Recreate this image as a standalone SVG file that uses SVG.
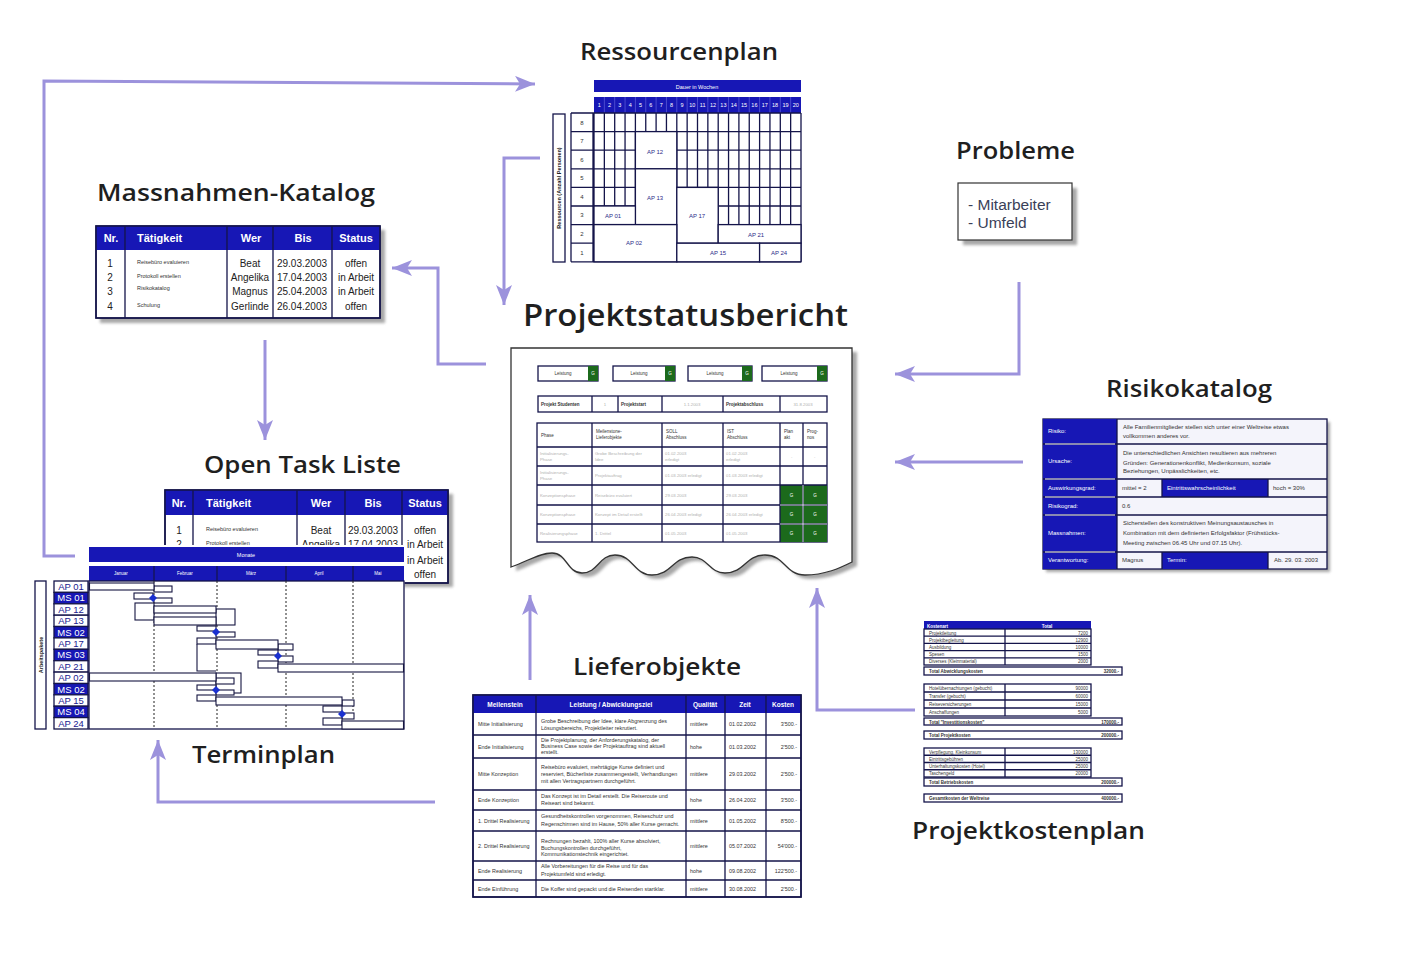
<svg xmlns="http://www.w3.org/2000/svg" width="1422" height="960" viewBox="0 0 1422 960">
<defs>
<style>
.t{font-family:"Open Sans","Liberation Sans",sans-serif;font-weight:600;font-size:24px;fill:#1f1f1f}
.s{font-family:"Liberation Sans",Arial,sans-serif}
.hb{fill:#1717b5}
.ln{fill:none;stroke:#14144a;stroke-width:1.3}
.cell{fill:#fff;stroke:#14144a;stroke-width:1.3}
.conn{fill:none;stroke:#9c92dc;stroke-width:3;marker-end:url(#ah)}
.sh{fill:#8a8a8a;opacity:.75;filter:url(#blur)}
.wh{fill:#fff}
.ap{font-family:"Liberation Sans",Arial,sans-serif;font-size:6px;fill:#2b2b8a;text-anchor:middle}
.hd{font-family:"Liberation Sans",Arial,sans-serif;font-weight:bold;font-size:11px;fill:#fff}
.bd{font-family:"Liberation Sans",Arial,sans-serif;font-size:10px;fill:#222}
.tiny{font-family:"Liberation Sans",Arial,sans-serif;font-size:5.5px;fill:#333}
.fa{font-family:"Liberation Sans",Arial,sans-serif;font-size:4.3px;fill:#b0b0b0}
.dk{font-family:"Liberation Sans",Arial,sans-serif;font-size:4.5px;fill:#333}
.bar{fill:#fff;stroke:#151540;stroke-width:1.1}
.dia{fill:#1a30d0}
.g{fill:#1c6a1c}
.gt{font-family:"Liberation Sans",Arial,sans-serif;font-size:4.5px;fill:#fff;text-anchor:middle}
.rk{font-family:"Liberation Sans",Arial,sans-serif;font-size:6px;fill:#333}
.rkw{font-family:"Liberation Sans",Arial,sans-serif;font-size:6px;fill:#fff}
.ko{font-family:"Liberation Sans",Arial,sans-serif;font-size:4.5px;fill:#333}
.lo{font-family:"Liberation Sans",Arial,sans-serif;font-size:5.4px;fill:#333}
</style>
<filter id="blur" x="-10%" y="-10%" width="120%" height="120%"><feGaussianBlur stdDeviation="1.5"/></filter>
<marker id="ah" markerUnits="userSpaceOnUse" markerWidth="20" markerHeight="16" refX="20" refY="8" orient="auto">
<path d="M0,0 L20,8 L0,16 L5,8 Z" fill="#9c92dc"/>
</marker>
</defs>
<rect width="1422" height="960" fill="#fff"/>

<!-- Titles -->
<g id="titles">
<text class="t" x="580" y="60" textLength="198" lengthAdjust="spacingAndGlyphs">Ressourcenplan</text>
<text class="t" x="97" y="201" textLength="278" lengthAdjust="spacingAndGlyphs">Massnahmen-Katalog</text>
<text class="t" x="956" y="159" textLength="119" lengthAdjust="spacingAndGlyphs">Probleme</text>
<text class="t" x="523" y="326" style="font-size:31px" textLength="325" lengthAdjust="spacingAndGlyphs">Projektstatusbericht</text>
<text class="t" x="1106" y="397" textLength="166" lengthAdjust="spacingAndGlyphs">Risikokatalog</text>
<text class="t" x="204" y="473" textLength="197" lengthAdjust="spacingAndGlyphs">Open Task Liste</text>
<text class="t" x="192" y="763" textLength="143" lengthAdjust="spacingAndGlyphs">Terminplan</text>
<text class="t" x="573" y="675" textLength="168" lengthAdjust="spacingAndGlyphs">Lieferobjekte</text>
<text class="t" x="912" y="839" textLength="233" lengthAdjust="spacingAndGlyphs">Projektkostenplan</text>
</g>

<!-- Connectors -->
<g id="connectors">
<path class="conn" d="M75,556 H44 V81 L535,84"/>
<path class="conn" d="M540,158 H504 V305"/>
<path class="conn" d="M486,364 H438 V268 H392"/>
<path class="conn" d="M265,340 V440"/>
<path class="conn" d="M1019,282 V374 H895"/>
<path class="conn" d="M1023,462 H895"/>
<path class="conn" d="M915,710 H817 V588"/>
<path class="conn" d="M530,680 V595"/>
<path class="conn" d="M435,802 H158 V740"/>
</g>

<!-- Ressourcenplan -->
<g id="ressourcenplan">
<rect class="hb" x="594" y="80" width="207" height="12"/>
<text class="s" x="697" y="88.5" font-size="5.5" fill="#fff" text-anchor="middle">Dauer in Wochen</text>
<rect class="hb" x="594" y="97" width="207" height="16"/>
<g class="s" font-size="5.5" fill="#fff" text-anchor="middle">
<text x="599.2" y="107">1</text><text x="609.5" y="107">2</text><text x="619.9" y="107">3</text><text x="630.2" y="107">4</text><text x="640.6" y="107">5</text><text x="650.9" y="107">6</text><text x="661.3" y="107">7</text><text x="671.6" y="107">8</text><text x="682" y="107">9</text><text x="692.3" y="107">10</text><text x="702.7" y="107">11</text><text x="713" y="107">12</text><text x="723.4" y="107">13</text><text x="733.7" y="107">14</text><text x="744.1" y="107">15</text><text x="754.4" y="107">16</text><text x="764.8" y="107">17</text><text x="775.1" y="107">18</text><text x="785.5" y="107">19</text><text x="795.8" y="107">20</text>
</g>
<path d="M604.35,97V113M614.7,97V113M625.05,97V113M635.4,97V113M645.75,97V113M656.1,97V113M666.45,97V113M676.8,97V113M687.15,97V113M697.5,97V113M707.85,97V113M718.2,97V113M728.55,97V113M738.9,97V113M749.25,97V113M759.6,97V113M769.95,97V113M780.3,97V113M790.65,97V113" stroke="#6f6fe0" stroke-width="0.6"/>
<rect x="571" y="113" width="230" height="148.8" fill="#fff"/>
<path class="ln" d="M571,113H801M571,131.6H801M571,150.2H801M571,168.8H801M571,187.4H801M571,206H801M571,224.6H801M571,243.2H801M571,261.8H801M571,113V261.8M593,113V261.8M594,113V261.8M604.35,113V261.8M614.7,113V261.8M625.05,113V261.8M635.4,113V261.8M645.75,113V261.8M656.1,113V261.8M666.45,113V261.8M676.8,113V261.8M687.15,113V261.8M697.5,113V261.8M707.85,113V261.8M718.2,113V261.8M728.55,113V261.8M738.9,113V261.8M749.25,113V261.8M759.6,113V261.8M769.95,113V261.8M780.3,113V261.8M790.65,113V261.8M801,113V261.8"/>
<rect class="cell" x="635.4" y="131.6" width="41.4" height="37.2"/>
<rect class="cell" x="635.4" y="168.8" width="41.4" height="55.8"/>
<rect class="cell" x="594" y="206" width="41.4" height="18.6"/>
<rect class="cell" x="676.8" y="187.4" width="41.4" height="55.8"/>
<rect class="cell" x="594" y="224.6" width="82.8" height="37.2"/>
<rect class="cell" x="718.2" y="224.6" width="82.8" height="18.6"/>
<rect class="cell" x="676.8" y="243.2" width="82.8" height="18.6"/>
<rect class="cell" x="759.6" y="243.2" width="41.4" height="18.6"/>
<text class="ap" x="655" y="154">AP 12</text>
<text class="ap" x="655" y="200">AP 13</text>
<text class="ap" x="613" y="218">AP 01</text>
<text class="ap" x="697" y="218">AP 17</text>
<text class="ap" x="634" y="245">AP 02</text>
<text class="ap" x="756" y="237">AP 21</text>
<text class="ap" x="718" y="254.5">AP 15</text>
<text class="ap" x="779" y="254.5">AP 24</text>
<g class="s" font-size="6" fill="#333" text-anchor="middle">
<text x="582" y="124.5">8</text><text x="582" y="143">7</text><text x="582" y="161.6">6</text><text x="582" y="180.2">5</text><text x="582" y="198.8">4</text><text x="582" y="217.4">3</text><text x="582" y="236">2</text><text x="582" y="254.6">1</text>
</g>
<rect x="553" y="114" width="12" height="148" fill="#fff" stroke="#14144a" stroke-width="1.3"/>
<text class="s" font-size="5.5" font-weight="bold" fill="#222" text-anchor="middle" transform="translate(561,188) rotate(-90)">Ressourcen (Anzahl Personen)</text>
</g>

<!-- Massnahmen-Katalog -->
<g id="massnahmen-katalog">
<rect class="sh" x="100" y="230" width="285" height="93"/>
<rect class="cell" x="96" y="226" width="284" height="92"/>
<rect class="hb" x="96" y="226" width="284" height="24"/>
<path class="ln" d="M125,226V318M227,226V318M273,226V318M332,226V318"/>
<rect x="96" y="226" width="284" height="92" fill="none" stroke="#14144a" stroke-width="1.6"/>
<text class="hd" x="111" y="242" text-anchor="middle">Nr.</text>
<text class="hd" x="137" y="242">Tätigkeit</text>
<text class="hd" x="251" y="242" text-anchor="middle">Wer</text>
<text class="hd" x="303" y="242" text-anchor="middle">Bis</text>
<text class="hd" x="356" y="242" text-anchor="middle">Status</text>
<g class="bd" text-anchor="middle">
<text x="110" y="267">1</text><text x="110" y="281">2</text><text x="110" y="295">3</text><text x="110" y="310">4</text>
<text x="250" y="267">Beat</text><text x="250" y="281">Angelika</text><text x="250" y="295">Magnus</text><text x="250" y="310">Gerlinde</text>
<text x="302" y="267">29.03.2003</text><text x="302" y="281">17.04.2003</text><text x="302" y="295">25.04.2003</text><text x="302" y="310">26.04.2003</text>
<text x="356" y="267">offen</text><text x="356" y="281">in Arbeit</text><text x="356" y="295">in Arbeit</text><text x="356" y="310">offen</text>
</g>
<g class="tiny">
<text x="137" y="264">Reisebüro evaluieren</text><text x="137" y="278">Protokoll erstellen</text><text x="137" y="290">Risikokatalog</text><text x="137" y="307">Schulung</text>
</g>
</g>

<!-- Open Task Liste -->
<g id="open-task-liste">
<rect class="sh" x="169" y="494" width="284" height="93"/>
<rect class="cell" x="165" y="490" width="283" height="93"/>
<rect class="hb" x="165" y="490" width="283" height="25"/>
<path class="ln" d="M193,490V583M297,490V583M345,490V583M402,490V583"/>
<rect x="165" y="490" width="283" height="93" fill="none" stroke="#14144a" stroke-width="1.6"/>
<text class="hd" x="179" y="507" text-anchor="middle">Nr.</text>
<text class="hd" x="206" y="507">Tätigkeit</text>
<text class="hd" x="321" y="507" text-anchor="middle">Wer</text>
<text class="hd" x="373" y="507" text-anchor="middle">Bis</text>
<text class="hd" x="425" y="507" text-anchor="middle">Status</text>
<g class="bd" text-anchor="middle">
<text x="179" y="534">1</text><text x="179" y="548">2</text>
<text x="321" y="534">Beat</text><text x="321" y="548">Angelika</text>
<text x="373" y="534">29.03.2003</text><text x="373" y="548">17.04.2003</text>
<text x="425" y="534">offen</text><text x="425" y="548">in Arbeit</text><text x="425" y="564">in Arbeit</text><text x="425" y="578">offen</text>
</g>
<g class="tiny"><text x="206" y="531">Reisebüro evaluieren</text><text x="206" y="545">Protokoll erstellen</text></g>
</g>

<!-- Terminplan -->
<g id="terminplan">
<rect x="86" y="545" width="318.5" height="186" fill="#fff"/>
<rect x="33" y="578" width="56" height="153" fill="#fff"/>
<rect class="hb" x="89" y="547" width="315" height="15"/>
<text class="s" x="246" y="557" font-size="5.5" fill="#fff" text-anchor="middle">Monate</text>
<rect class="hb" x="89" y="566" width="315" height="15"/>
<path d="M154,566V581M217,566V581M286,566V581M353,566V581" stroke="#14144a" stroke-width="1.2"/>
<g class="s" font-size="4.5" fill="#fff" text-anchor="middle">
<text x="121" y="575">Januar</text><text x="185" y="575">Februar</text><text x="251" y="575">März</text><text x="319" y="575">April</text><text x="378" y="575">Mai</text>
</g>
<rect class="cell" x="89" y="581" width="315" height="148"/>
<path d="M154,581V729M217,581V729M286,581V729M353,581V729" stroke="#222" stroke-width="1" stroke-dasharray="2,2"/>
<g>
<rect class="cell" x="54" y="581" width="34" height="11.4"/>
<rect x="54" y="592.4" width="34" height="11.4" class="hb" stroke="#14144a" stroke-width="1.3"/>
<rect class="cell" x="54" y="603.8" width="34" height="11.4"/>
<rect class="cell" x="54" y="615.2" width="34" height="11.3"/>
<rect x="54" y="626.5" width="34" height="11.4" class="hb" stroke="#14144a" stroke-width="1.3"/>
<rect class="cell" x="54" y="637.9" width="34" height="11.4"/>
<rect x="54" y="649.3" width="34" height="11.4" class="hb" stroke="#14144a" stroke-width="1.3"/>
<rect class="cell" x="54" y="660.7" width="34" height="11.4"/>
<rect class="cell" x="54" y="672.1" width="34" height="11.4"/>
<rect x="54" y="683.5" width="34" height="11.3" class="hb" stroke="#14144a" stroke-width="1.3"/>
<rect class="cell" x="54" y="694.8" width="34" height="11.4"/>
<rect x="54" y="706.2" width="34" height="11.4" class="hb" stroke="#14144a" stroke-width="1.3"/>
<rect class="cell" x="54" y="717.6" width="34" height="11.4"/>
</g>
<g class="s" font-size="9.5" text-anchor="middle">
<text x="71" y="590" fill="#1a1a90">AP 01</text>
<text x="71" y="601.4" fill="#fff">MS 01</text>
<text x="71" y="612.8" fill="#1a1a90">AP 12</text>
<text x="71" y="624.2" fill="#1a1a90">AP 13</text>
<text x="71" y="635.5" fill="#fff">MS 02</text>
<text x="71" y="646.9" fill="#1a1a90">AP 17</text>
<text x="71" y="658.3" fill="#fff">MS 03</text>
<text x="71" y="669.7" fill="#1a1a90">AP 21</text>
<text x="71" y="681.1" fill="#1a1a90">AP 02</text>
<text x="71" y="692.5" fill="#fff">MS 02</text>
<text x="71" y="703.8" fill="#1a1a90">AP 15</text>
<text x="71" y="715.2" fill="#fff">MS 04</text>
<text x="71" y="726.6" fill="#1a1a90">AP 24</text>
</g>
<rect x="35" y="581" width="11" height="148" fill="#fff" stroke="#14144a" stroke-width="1.3"/>
<text class="s" font-size="5.5" font-weight="bold" fill="#222" text-anchor="middle" transform="translate(42.5,655) rotate(-90)">Arbeitspakete</text>
<rect class="bar" x="154" y="586" width="18" height="6"/>
<rect class="bar" x="89.5" y="583" width="64.5" height="7"/>
<rect class="bar" x="134" y="593" width="19" height="6"/>
<rect class="bar" x="154" y="598" width="18" height="5"/>
<rect class="bar" x="135" y="603" width="19" height="17"/>
<rect class="bar" x="216" y="609" width="19" height="16"/>
<rect class="bar" x="154" y="606" width="62" height="7"/>
<rect class="bar" x="154" y="617" width="62" height="8"/>
<rect class="bar" x="197" y="626" width="19" height="5"/>
<rect class="bar" x="216" y="632" width="19" height="5"/>
<path class="bar" d="M197,644V671H216" fill="none"/>
<rect class="bar" x="197" y="638" width="19" height="6"/>
<rect class="bar" x="278" y="644" width="15" height="6"/>
<rect class="bar" x="216" y="640" width="62" height="9"/>
<rect class="bar" x="258" y="650" width="20" height="5"/>
<rect class="bar" x="278" y="656" width="15" height="6"/>
<rect class="bar" x="258" y="661" width="20" height="7"/>
<rect class="bar" x="278" y="664" width="125.5" height="8"/>
<rect class="bar" x="216" y="673" width="25" height="20"/>
<rect class="bar" x="216" y="678" width="18" height="6"/>
<rect class="bar" x="89.5" y="673" width="126.5" height="8"/>
<rect class="bar" x="197" y="685" width="19" height="5"/>
<rect class="bar" x="216" y="690" width="18" height="5"/>
<rect class="bar" x="197" y="695" width="19" height="6"/>
<rect class="bar" x="342" y="700" width="12" height="6"/>
<rect class="bar" x="216" y="697" width="126" height="8"/>
<rect class="bar" x="323" y="706" width="19" height="6"/>
<rect class="bar" x="342" y="713" width="12" height="6"/>
<rect class="bar" x="323" y="718" width="19" height="7"/>
<rect class="bar" x="342" y="721" width="61.5" height="8"/>
<path class="dia" d="M153,594L157,598L153,602L149,598Z"/>
<path class="dia" d="M216,628L220,632L216,636L212,632Z"/>
<path class="dia" d="M278,652L282,656L278,660L274,656Z"/>
<path class="dia" d="M216,686L220,690L216,694L212,690Z"/>
<path class="dia" d="M342,710L346,714L342,718L338,714Z"/>
</g>

<!-- Projektstatusbericht -->
<g id="projektstatusbericht">
<path class="sh" transform="translate(5,4)" d="M511,348 H852 V562 C840,568 825,575 805,575 C785,575 785,555 765,555 C745,555 745,573 725,573 C709,573 708,557 692,557 C672,557 672,575 652,575 C634,575 633,555 615,555 C599,555 598,573 582,573 C567,573 567,553 552,553 C540,553 530,560 511,567 Z"/>
<path d="M511,348 H852 V562 C840,568 825,575 805,575 C785,575 785,555 765,555 C745,555 745,573 725,573 C709,573 708,557 692,557 C672,557 672,575 652,575 C634,575 633,555 615,555 C599,555 598,573 582,573 C567,573 567,553 552,553 C540,553 530,560 511,567 Z" fill="#fff" stroke="#333" stroke-width="1.3"/>
<g>
<rect class="cell" x="538" y="366" width="60" height="15"/><rect class="g" x="588" y="366" width="10" height="15"/>
<rect class="cell" x="613" y="366" width="62" height="15"/><rect class="g" x="665" y="366" width="10" height="15"/>
<rect class="cell" x="688" y="366" width="64" height="15"/><rect class="g" x="742" y="366" width="10" height="15"/>
<rect class="cell" x="762" y="366" width="65" height="15"/><rect class="g" x="817" y="366" width="10" height="15"/>
<g class="dk" text-anchor="middle"><text x="563" y="375">Leistung</text><text x="639" y="375">Leistung</text><text x="715" y="375">Leistung</text><text x="789" y="375">Leistung</text></g>
<text class="gt" x="593" y="375">G</text><text class="gt" x="670" y="375">G</text><text class="gt" x="747" y="375">G</text><text class="gt" x="822" y="375">G</text>
</g>
<rect class="cell" x="538" y="396" width="289" height="16"/>
<path class="ln" d="M592,396V412M618,396V412M662,396V412M723,396V412M780,396V412"/>
<text class="dk" x="541" y="405.5" font-weight="bold">Projekt Studenten</text>
<text class="fa" x="605" y="405.5" text-anchor="middle">1</text>
<text class="dk" x="621" y="405.5" font-weight="bold">Projektstart</text>
<text class="fa" x="692" y="405.5" text-anchor="middle">1.1.2003</text>
<text class="dk" x="726" y="405.5" font-weight="bold">Projektabschluss</text>
<text class="fa" x="803" y="405.5" text-anchor="middle">31.8.2003</text>
<rect class="cell" x="537" y="423" width="290" height="119"/>
<rect class="g" x="780" y="485" width="47" height="57"/>
<path class="ln" d="M592,423V542M662,423V542M723,423V542M780,423V542M803,423V542M537,447H827M537,466H827M537,485H827M537,505H827M537,524H827"/>
<path d="M780,505H827M780,524H827M803,485V542" stroke="#fff" stroke-width="0.8"/>
<g class="dk">
<text x="541" y="437">Phase</text>
<text x="596" y="433">Meilenstone-</text><text x="596" y="439">Lieferobjekte</text>
<text x="666" y="433">SOLL</text><text x="666" y="439">Abschluss</text>
<text x="727" y="433">IST</text><text x="727" y="439">Abschluss</text>
<text x="784" y="433">Plan</text><text x="784" y="439">akt</text>
<text x="807" y="433">Prog-</text><text x="807" y="439">nos</text>
</g>
<g class="fa">
<text x="540" y="455">Initialisierungs-</text><text x="540" y="461">Phase</text>
<text x="595" y="455">Grobe Beschreibung der</text><text x="595" y="461">Idee</text>
<text x="665" y="455">01.02.2003</text><text x="665" y="461">erledigt</text>
<text x="726" y="455">01.02.2003</text><text x="726" y="461">erledigt</text>
<text x="791" y="458">-</text><text x="814" y="458">-</text>
<text x="540" y="474">Initialisierungs-</text><text x="540" y="480">Phase</text>
<text x="595" y="477">Projektauftrag</text>
<text x="665" y="477">01.03.2003 erledigt</text>
<text x="726" y="477">01.03.2003 erledigt</text>
<text x="540" y="496.5">Konzeptionsphase</text>
<text x="595" y="496.5">Reisebüro evaluiert</text>
<text x="665" y="496.5">29.03.2003</text>
<text x="726" y="496.5">29.03.2003</text>
<text x="540" y="516">Konzeptionsphase</text>
<text x="595" y="516">Konzept im Detail erstellt</text>
<text x="665" y="516">26.04.2003 erledigt</text>
<text x="726" y="516">26.04.2003 erledigt</text>
<text x="540" y="534.5">Realisierungsphase</text>
<text x="595" y="534.5">1. Drittel</text>
<text x="665" y="534.5">01.05.2003</text>
<text x="726" y="534.5">01.05.2003</text>
</g>
<g class="gt"><text x="791.5" y="496.5">G</text><text x="815" y="496.5">G</text><text x="791.5" y="516">G</text><text x="815" y="516">G</text><text x="791.5" y="534.5">G</text><text x="815" y="534.5">G</text></g>
</g>

<!-- Probleme -->
<g id="probleme">
<rect class="sh" x="963" y="188" width="114" height="57"/>
<rect x="958" y="183" width="114" height="57" fill="#fff" stroke="#333" stroke-width="1.2"/>
<text class="s" x="968" y="210" font-size="15.5" fill="#3a3f58">- Mitarbeiter</text>
<text class="s" x="968" y="228" font-size="15.5" fill="#3a3f58">- Umfeld</text>
</g>

<!-- Risikokatalog -->
<g id="risikokatalog">
<rect class="sh" x="1046" y="422" width="284" height="150"/>
<rect x="1043" y="419" width="284" height="150" fill="#f4f4fb" stroke="#14144a" stroke-width="1.3"/>
<rect class="hb" x="1043" y="419" width="74" height="150"/>
<rect class="hb" x="1162" y="479" width="106" height="18"/>
<rect class="hb" x="1162" y="552" width="106" height="17"/>
<path class="ln" d="M1043,444H1327M1043,479H1327M1043,497H1327M1043,515H1327M1043,552H1327M1117,419V569M1162,479V497M1268,479V497M1162,552V569M1268,552V569"/>
<path d="M1045,444H1115M1045,479H1115M1045,497H1115M1045,515H1115M1045,552H1115" stroke="#fff" stroke-width="1"/>
<g class="rkw">
<text x="1048" y="433">Risiko:</text><text x="1048" y="463">Ursache:</text><text x="1048" y="490">Auswirkungsgrad:</text><text x="1048" y="508">Risikograd:</text><text x="1048" y="535">Massnahmen:</text><text x="1048" y="562">Verantwortung:</text>
<text x="1167" y="490">Eintrittswahrscheinlichkeit</text><text x="1167" y="562">Termin:</text>
</g>
<g class="rk">
<text x="1123" y="429">Alle Familienmitglieder stellen sich unter einer Weltreise etwas</text>
<text x="1123" y="438">vollkommen anderes vor.</text>
<text x="1123" y="455">Die unterschiedlichen Ansichten resultieren aus mehreren</text>
<text x="1123" y="465">Gründen: Generationenkonflikt, Medienkonsum, soziale</text>
<text x="1123" y="473">Beziehungen, Unpässlichkeiten, etc.</text>
<text x="1122" y="490">mittel = 2</text>
<text x="1273" y="490">hoch = 30%</text>
<text x="1122" y="508">0.6</text>
<text x="1123" y="525">Sicherstellen des konstruktiven Meinungsaustausches in</text>
<text x="1123" y="535">Kombination mit dem definierten Erfolgsfaktor (Frühstücks-</text>
<text x="1123" y="545">Meeting zwischen 06.45 Uhr und 07.15 Uhr).</text>
<text x="1122" y="562">Magnus</text>
<text x="1274" y="562">Ab. 29. 03. 2003</text>
</g>
</g>

<!-- Projektkostenplan -->
<g id="projektkostenplan">
<rect class="hb" x="924" y="621" width="167" height="8"/>
<text class="ko" x="927" y="627.5" font-weight="bold" style="fill:#fff">Kostenart</text>
<text class="ko" x="1047" y="627.5" text-anchor="middle" font-weight="bold" style="fill:#fff">Total</text>
<rect class="cell" x="924" y="629" width="167" height="36"/>
<path class="ln" d="M924,636.2H1091M924,643.4H1091M924,650.6H1091M924,657.8H1091M1005,629V665"/>
<g class="ko">
<text x="929" y="634.5">Projektleitung</text><text x="929" y="641.7">Projektbegleitung</text><text x="929" y="648.9">Ausbildung</text><text x="929" y="656.1">Spesen</text><text x="929" y="663.3">Diverses (Kleinmaterial)</text>
</g>
<g class="ko" text-anchor="end">
<text x="1088" y="634.5">7200</text><text x="1088" y="641.7">12900</text><text x="1088" y="648.9">10000</text><text x="1088" y="656.1">1500</text><text x="1088" y="663.3">2000</text>
</g>
<rect class="cell" x="924" y="667" width="198" height="8"/>
<text class="ko" x="929" y="673" font-weight="bold">Total Abwicklungskosten</text><text class="ko" x="1119" y="673" text-anchor="end" font-weight="bold">32000.-</text>
<rect class="cell" x="924" y="684" width="167" height="32"/>
<path class="ln" d="M924,692H1091M924,700H1091M924,708H1091M1005,684V716"/>
<g class="ko">
<text x="929" y="690">Hotelübernachtungen (gebucht)</text><text x="929" y="698">Transfer (gebucht)</text><text x="929" y="706">Reiseversicherungen</text><text x="929" y="714">Anschaffungen</text>
</g>
<g class="ko" text-anchor="end">
<text x="1088" y="690">90000</text><text x="1088" y="698">60000</text><text x="1088" y="706">15000</text><text x="1088" y="714">5000</text>
</g>
<rect class="cell" x="924" y="718" width="198" height="7"/>
<text class="ko" x="929" y="723.5" font-weight="bold">Total "Investitionskosten"</text><text class="ko" x="1119" y="723.5" text-anchor="end" font-weight="bold">170000.-</text>
<rect class="cell" x="924" y="731" width="198" height="8"/>
<text class="ko" x="929" y="737" font-weight="bold">Total Projektkosten</text><text class="ko" x="1119" y="737" text-anchor="end" font-weight="bold">200000.-</text>
<rect class="cell" x="924" y="748" width="167" height="29"/>
<path class="ln" d="M924,755.25H1091M924,762.5H1091M924,769.75H1091M1005,748V777"/>
<g class="ko">
<text x="929" y="753.5">Verpflegung, Kleinkonsum</text><text x="929" y="760.7">Eintrittsgebühren</text><text x="929" y="768">Unterhaltungskosten (Hotel)</text><text x="929" y="775.2">Taschengeld</text>
</g>
<g class="ko" text-anchor="end">
<text x="1088" y="753.5">130000</text><text x="1088" y="760.7">25000</text><text x="1088" y="768">25000</text><text x="1088" y="775.2">20000</text>
</g>
<rect class="cell" x="924" y="778" width="198" height="8"/>
<text class="ko" x="929" y="784" font-weight="bold">Total Betriebskosten</text><text class="ko" x="1119" y="784" text-anchor="end" font-weight="bold">200000.-</text>
<rect class="cell" x="924" y="794" width="198" height="8"/>
<text class="ko" x="929" y="800" font-weight="bold">Gesamtkosten der Weltreise</text><text class="ko" x="1119" y="800" text-anchor="end" font-weight="bold">400000.-</text>
</g>

<!-- Lieferobjekte -->
<g id="lieferobjekte">
<rect class="cell" x="473" y="695" width="328" height="202"/>
<rect class="hb" x="473" y="695" width="328" height="18"/>
<path class="ln" d="M536,695V897M686,695V897M725,695V897M766,695V897M473,735H801M473,758H801M473,790H801M473,810H801M473,831H801M473,861H801M473,880H801"/>
<rect x="473" y="695" width="328" height="202" fill="none" stroke="#14144a" stroke-width="1.6"/>
<g class="s" font-size="6.5" font-weight="bold" fill="#fff" text-anchor="middle">
<text x="505" y="706.5">Meilenstein</text><text x="611" y="706.5">Leistung / Abwicklungsziel</text><text x="705" y="706.5">Qualität</text><text x="745" y="706.5">Zeit</text><text x="783" y="706.5">Kosten</text>
</g>
<g class="lo">
<text x="478" y="726">Mitte Initialisierung</text>
<text x="478" y="748.5">Ende Initialisierung</text>
<text x="478" y="776">Mitte Konzeption</text>
<text x="478" y="802">Ende Konzeption</text>
<text x="478" y="822.5">1. Drittel Realisierung</text>
<text x="478" y="848">2. Drittel Realisierung</text>
<text x="478" y="872.5">Ende Realisierung</text>
<text x="478" y="890.5">Ende Einführung</text>
<text x="541" y="723">Grobe Beschreibung der Idee, klare Abgrenzung des</text>
<text x="541" y="730">Lösungsbereichs, Projektleiter rekrutiert.</text>
<text x="541" y="742">Die Projektplanung, der Anforderungskatalog, der</text>
<text x="541" y="748">Business Case sowie der Projektauftrag sind aktuell</text>
<text x="541" y="754">erstellt.</text>
<text x="541" y="769">Reisebüro evaluiert, mehrtägige Kurse definiert und</text>
<text x="541" y="776">reserviert, Bücherliste zusammengestellt, Verhandlungen</text>
<text x="541" y="783">mit allen Vertragspartnern durchgeführt.</text>
<text x="541" y="798">Das Konzept ist im Detail erstellt. Die Reiseroute und</text>
<text x="541" y="805">Reiseart sind bekannt.</text>
<text x="541" y="818">Gesundheitskontrollen vorgenommen, Reiseschutz und</text>
<text x="541" y="826">Regenschirmen sind im Hause, 50% aller Kurse gemacht.</text>
<text x="541" y="843">Rechnungen bezahlt, 100% aller Kurse absolviert,</text>
<text x="541" y="849.5">Buchungskontrollen durchgeführt,</text>
<text x="541" y="856">Kommunikationstechnik eingerichtet.</text>
<text x="541" y="868">Alle Vorbereitungen für die Reise und für das</text>
<text x="541" y="876">Projektumfeld sind erledigt.</text>
<text x="541" y="890.5">Die Koffer sind gepackt und die Reisenden startklar.</text>
<text x="690" y="726">mittlere</text><text x="690" y="748.5">hohe</text><text x="690" y="776">mittlere</text><text x="690" y="802">hohe</text><text x="690" y="822.5">mittlere</text><text x="690" y="848">mittlere</text><text x="690" y="872.5">hohe</text><text x="690" y="890.5">mittlere</text>
<text x="729" y="726">01.02.2002</text><text x="729" y="748.5">01.03.2002</text><text x="729" y="776">29.03.2002</text><text x="729" y="802">26.04.2002</text><text x="729" y="822.5">01.05.2002</text><text x="729" y="848">05.07.2002</text><text x="729" y="872.5">09.08.2002</text><text x="729" y="890.5">30.08.2002</text>
</g>
<g class="lo" text-anchor="end">
<text x="797" y="726">3'500.-</text><text x="797" y="748.5">2'500.-</text><text x="797" y="776">2'500.-</text><text x="797" y="802">3'500.-</text><text x="797" y="822.5">8'500.-</text><text x="797" y="848">54'000.-</text><text x="797" y="872.5">122'500.-</text><text x="797" y="890.5">2'500.-</text>
</g>
</g>
</svg>
